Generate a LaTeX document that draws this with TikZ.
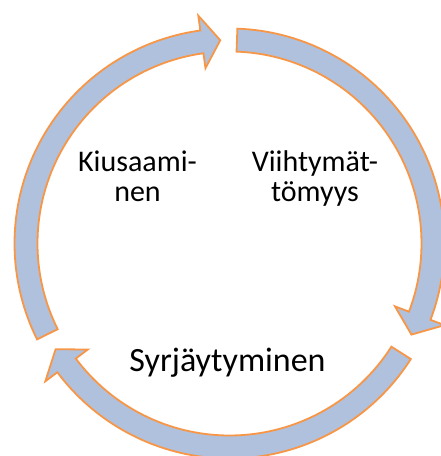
\documentclass[tikz,border=0pt]{standalone}
\usepackage{fontspec}
\setmainfont{Carlito}
\definecolor{arrowfill}{RGB}{176,193,221}
\definecolor{arroworange}{RGB}{247,150,70}
\newcommand\cyclearc[3]{%
 \filldraw[cyclearrow] ([shift={(#1:\ri)}]c) arc[start angle=#1,end angle=#2,radius=\ri]
   -- ([shift={(#2:\rwi)}]c) -- ([shift={(#3:\rm)}]c) -- ([shift={(#2:\rwo)}]c)
   -- ([shift={(#2:\ro)}]c) arc[start angle=#2,end angle=#1,radius=\ro] -- cycle;}
\begin{document}
\begin{tikzpicture}[x=1pt,y=1pt,
  cyclearrow/.style={fill=arrowfill, draw=arroworange, line width=1.8pt, line join=miter},
  lbl/.style={inner sep=0pt, align=center, text=black}]
\useasboundingbox (0,0) rectangle (441,456);
\clip (0,0) rectangle (441,456);
\coordinate (c) at (229.5,212.5);
\def\ri{192}\def\ro{215}\def\rm{203.5}\def\rwi{177}\def\rwo{230}
% top arrow (left side, pointing right at top)
\cyclearc{206.5}{97.8}{92.6}
% right arrow
\cyclearc{87.9}{-20.8}{-26.6}
% bottom arrow
\cyclearc{-32.5}{-143.2}{-148.7}
\node[lbl, font=\fontsize{30}{30}\selectfont, anchor=base] (kius) at (137.5,254) {Kiusaami-\\nen};
\node[lbl, font=\fontsize{30}{30}\selectfont, anchor=base] (viih) at (315,254) {Viihtymät-\\tömyys};
\node[lbl, font=\fontsize{34}{40}\selectfont, anchor=base] (syrj) at (227.5,84) {Syrjäytyminen};
\end{tikzpicture}
\end{document}
